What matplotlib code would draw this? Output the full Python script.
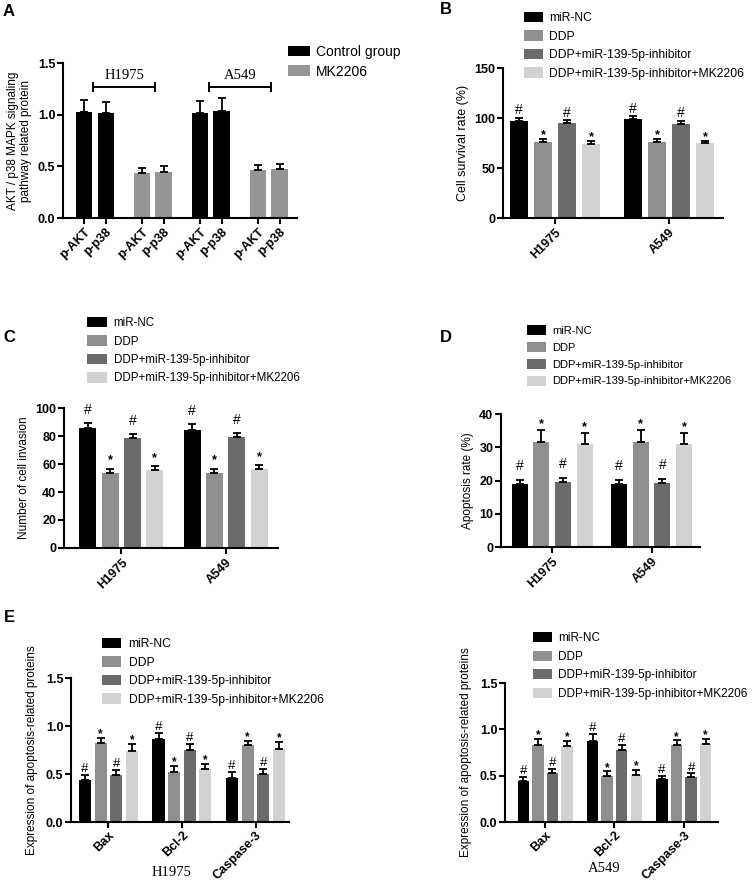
import numpy as np
import matplotlib
matplotlib.use("Agg")
import matplotlib.pyplot as plt

plt.rcParams['font.family'] = ['Liberation Sans', 'DejaVu Sans']

W, H = 753, 880

# ---- data ----
a_labels = ['p-AKT', 'p-p38', 'p-AKT', 'p-p38', 'p-AKT', 'p-p38', 'p-AKT', 'p-p38']
a_groups = ['Control group', 'Control group', 'MK2206', 'MK2206',
            'Control group', 'Control group', 'MK2206', 'MK2206']
a_values = [1.03, 1.02, 0.44, 0.45, 1.02, 1.04, 0.46, 0.47]
a_errors = [0.11, 0.10, 0.045, 0.055, 0.115, 0.125, 0.055, 0.05]
a_cells = ['H1975', 'A549']

series = ['miR-NC', 'DDP', 'DDP+miR-139-5p-inhibitor', 'DDP+miR-139-5p-inhibitor+MK2206']
marks = ['#', '*', '#', '*']
cells = ['H1975', 'A549']

b_values = [[97.5, 99.0], [76.5, 76.5], [95.0, 94.3], [74.3, 75.0]]
b_errors = [[3.0, 2.7], [2.7, 2.7], [2.7, 3.0], [2.4, 2.3]]

c_values = [[85.7, 84.5], [53.6, 53.6], [78.6, 79.0], [56.0, 56.4]]
c_errors = [[3.6, 4.1], [2.8, 2.8], [3.1, 3.1], [2.3, 2.6]]

d_values = [[19.0, 19.0], [31.5, 31.5], [19.5, 19.3], [31.1, 31.1]]
d_errors = [[1.1, 1.1], [3.6, 3.6], [1.3, 1.1], [3.3, 3.3]]

proteins = ['Bax', 'Bcl-2', 'Caspase-3']
e1_values = [[0.44, 0.86, 0.46], [0.82, 0.52, 0.80], [0.49, 0.75, 0.50], [0.74, 0.55, 0.76]]
e1_errors = [[0.05, 0.07, 0.06], [0.06, 0.06, 0.045], [0.05, 0.06, 0.055], [0.07, 0.055, 0.075]]
e2_values = [[0.44, 0.87, 0.46], [0.83, 0.50, 0.83], [0.53, 0.78, 0.49], [0.82, 0.51, 0.84]]
e2_errors = [[0.045, 0.08, 0.035], [0.065, 0.045, 0.05], [0.045, 0.055, 0.035], [0.055, 0.055, 0.06]]

colors = ['#000000', '#8f8f91', '#6b6b6b', '#d2d2d2']
a_colors = {'Control group': '#000000', 'MK2206': '#969698'}

fig = plt.figure(figsize=(W / 100, H / 100), dpi=100)


def px_axes(l, t, r, b):
    return fig.add_axes([l / W, 1 - b / H, (r - l) / W, (b - t) / H])


def style(ax, yticks, xpad=2):
    for s in ['top', 'right']:
        ax.spines[s].set_visible(False)
    for s in ['left', 'bottom']:
        ax.spines[s].set_linewidth(1.5)
    ax.set_yticks(yticks)
    ax.set_ylim(yticks[0], yticks[-1])
    ax.tick_params(width=1.5, length=4, labelsize=9, pad=1.5)
    ax.tick_params(axis='x', pad=xpad)
    plt.setp(ax.get_yticklabels(), fontweight='bold')


def px_legend(ax, handles, x, y, fs=8, hl=1.7, hh=1.0, ls=0.55, tp=0.6):
    ax.legend(handles=handles, loc='upper left', bbox_to_anchor=(x / W, 1 - y / H),
              bbox_transform=fig.transFigure, frameon=False, fontsize=fs,
              handlelength=hl, handleheight=hh, labelspacing=ls,
              handletextpad=tp, borderpad=0, borderaxespad=0)


def grouped(ax, values, errors, cats, gap, width, xlim, off_hash, off_star, mfs=10, xfs=9):
    centers = np.arange(len(cats)) * gap
    handles = []
    for i, name in enumerate(series):
        xs = centers + (i - 1.5)
        h = ax.bar(xs, values[i], width, color=colors[i], label=name, zorder=2)
        handles.append(h)
        ax.errorbar(xs, values[i], yerr=[np.zeros(len(cats)), errors[i]], fmt='none',
                    ecolor='black', elinewidth=1.3, capsize=3.2, capthick=1.3, zorder=3)
        for x, v, e in zip(xs, values[i], errors[i]):
            if marks[i] == '#':
                ax.annotate('#', (x, v + e), xytext=(0, off_hash), textcoords='offset points',
                            ha='center', va='baseline', fontsize=mfs)
            else:
                ax.annotate('*', (x, v + e), xytext=(0, off_star), textcoords='offset points',
                            ha='center', va='baseline', fontsize=mfs - 1, fontweight='bold')
    ax.set_xticks(centers)
    ax.set_xticklabels(cats, rotation=45, ha='right', rotation_mode='anchor',
                       fontsize=xfs, fontweight='bold')
    ax.set_xlim(*xlim)
    return handles


# ---- Panel A ----
axA = px_axes(63, 63, 297, 218)
a_pos = np.array([0, 1, 2.72, 3.72, 5.44, 6.44, 8.16, 9.16])
hA = {}
for x, v, e, g in zip(a_pos, a_values, a_errors, a_groups):
    b = axA.bar(x, v, 0.76, color=a_colors[g], label=g, zorder=2)
    hA[g] = b
    axA.errorbar(x, v, yerr=[[0], [e]], fmt='none', ecolor='black',
                 elinewidth=1.3, capsize=3.2, capthick=1.3, zorder=3)
style(axA, [0, 0.5, 1.0, 1.5])
axA.set_yticklabels(['0.0', '0.5', '1.0', '1.5'], fontweight='bold')
axA.set_xticks(a_pos)
axA.set_xticklabels(a_labels, rotation=45, ha='right', rotation_mode='anchor',
                    fontsize=9, fontweight='bold')
axA.set_xlim(-1.0, 9.98)
axA.set_ylabel('AKT / p38 MAPK signaling\npathway related protein', fontsize=8.5, labelpad=4)
for k, cell in enumerate(a_cells):
    x0 = a_pos[4 * k] + 0.4
    x1 = a_pos[4 * k + 3] - 0.38
    yb = 1.268
    axA.plot([x0, x1], [yb, yb], color='black', lw=1.4, clip_on=False)
    axA.plot([x0, x0], [yb - 0.04, yb + 0.04], color='black', lw=1.4, clip_on=False)
    axA.plot([x1, x1], [yb - 0.04, yb + 0.04], color='black', lw=1.4, clip_on=False)
    axA.text((x0 + x1) / 2, yb + 0.045, cell, ha='center', va='bottom',
             fontsize=10.5, family='Liberation Serif')
px_legend(axA, [hA['Control group'], hA['MK2206']], 288, 45, fs=10, hl=1.6, hh=0.8, ls=0.4, tp=0.4)

# ---- Panel B ----
axB = px_axes(503, 68, 723, 218)
hB = grouped(axB, b_values, b_errors, cells, 4.75, 0.75, (-2.17, 7.0), 2.5, 0.5)
style(axB, [0, 50, 100, 150])
axB.set_ylabel('Cell survival rate (%)', fontsize=9, labelpad=4)
px_legend(axB, hB, 524, 12, fs=8.7, hl=1.55, hh=0.95, ls=0.5, tp=0.5)

# ---- Panel C ----
axC = px_axes(64, 408, 278, 548)
hC = grouped(axC, c_values, c_errors, cells, 4.67, 0.76, (-2.57, 7.02), 6.5, 4.0)
style(axC, [0, 20, 40, 60, 80, 100])
axC.set_ylabel('Number of cell invasion', fontsize=8.5, labelpad=4)
px_legend(axC, hC, 87, 317, fs=8.3)

# ---- Panel D ----
axD = px_axes(501, 414, 700, 547)
hD = grouped(axD, d_values, d_errors, cells, 4.6, 0.74, (-2.37, 6.84), 7.0, 2.0)
style(axD, [0, 10, 20, 30, 40])
axD.set_ylabel('Apoptosis rate (%)', fontsize=8.5, labelpad=4)
px_legend(axD, hD, 527, 325)

# ---- Panel E (H1975) ----
axE1 = px_axes(71, 678, 289, 822)
hE1 = grouped(axE1, e1_values, e1_errors, proteins, 4.71, 0.77, (-2.39, 11.56), 2.0, 0.5,
              mfs=9.5, xfs=7.6)
style(axE1, [0, 0.5, 1.0, 1.5], xpad=1)
axE1.set_yticklabels(['0.0', '0.5', '1.0', '1.5'], fontweight='bold')
axE1.set_ylabel('Expression of apoptosis-related proteins', fontsize=8.5, labelpad=6)
px_legend(axE1, hE1, 102, 638, fs=8.7, hl=1.6, hh=0.95, ls=0.5)
fig.text(172 / W, 1 - 872 / H, 'H1975', ha='center', va='center',
         fontsize=10.5, family='Liberation Serif')

# ---- Panel E (A549) ----
axE2 = px_axes(505, 683, 718, 822)
hE2 = grouped(axE2, e2_values, e2_errors, proteins, 4.75, 0.78, (-2.75, 11.84), 2.0, 0.5,
              mfs=9.5, xfs=7.6)
style(axE2, [0, 0.5, 1.0, 1.5], xpad=1)
axE2.set_yticklabels(['0.0', '0.5', '1.0', '1.5'], fontweight='bold')
axE2.set_ylabel('Expression of apoptosis-related proteins', fontsize=8.5, labelpad=6)
px_legend(axE2, hE2, 533, 632, fs=8.5, hl=1.6, hh=0.95, ls=0.55, tp=0.5)
fig.text(604 / W, 1 - 868 / H, 'A549', ha='center', va='center',
         fontsize=10.5, family='Liberation Serif')

# ---- panel letters ----
for letter, (x, y) in {'A': (9, 11), 'B': (446, 10), 'C': (9, 338),
                       'D': (446, 338), 'E': (9, 617)}.items():
    fig.text(x / W, 1 - y / H, letter, ha='center', va='center',
             fontsize=12, fontweight='bold')

fig.savefig('out.png', dpi=100)
